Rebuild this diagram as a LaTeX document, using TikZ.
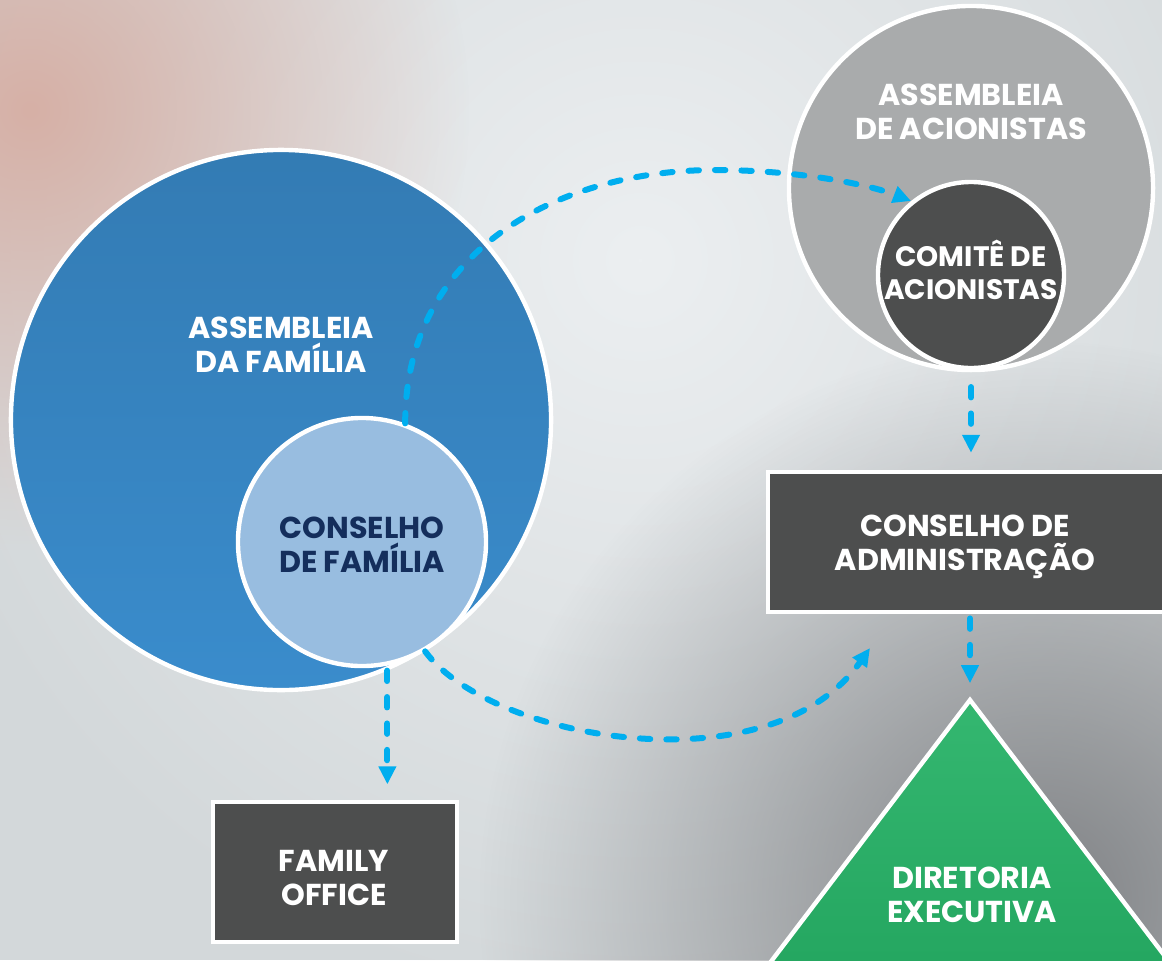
\documentclass[tikz,border=0pt]{standalone}
\usepackage{fontspec}
\setmainfont{Poppins}
\usetikzlibrary{arrows.meta,calc,fadings}
\usepackage{xcolor}
\definecolor{govbg}{RGB}{211, 216, 218}
\definecolor{govlight}{RGB}{236, 239, 241}
\definecolor{govpink}{RGB}{214, 176, 166}
\definecolor{govshadow}{RGB}{128, 130, 133}
\definecolor{famblue}{RGB}{58, 140, 204}
\definecolor{famlight}{RGB}{152, 189, 224}
\definecolor{famnavy}{RGB}{20, 46, 92}
\definecolor{sharegray}{RGB}{169, 171, 172}
\definecolor{govdark}{RGB}{77, 78, 78}
\definecolor{execgreen}{RGB}{36, 166, 96}
\definecolor{execlight}{RGB}{52, 183, 112}
\definecolor{govcyan}{RGB}{0, 174, 239}
\tikzfading[name=glow, inner color=transparent!0, outer color=transparent!100]

\begin{document}
\begin{tikzpicture}[x=0.025cm, y=-0.025cm,
    ring/.style={circle, draw=white, line width=0.11cm, inner sep=0pt},
    darkbox/.style={rectangle, draw=white, line width=0.12cm, fill=govdark, inner sep=0pt},
    headtext/.style={text=white, align=center, font=\bfseries\fontsize{21.5}{24}\selectfont},
    flow/.style={draw=govcyan, line width=0.15cm, line cap=round, dash pattern=on 0.26cm off 0.4cm,
        -{Triangle[length=0.45cm, width=0.42cm]}}]
    % Background
    \clip (0,0) rectangle (1162,960);
    \fill[govbg] (0,0) rectangle (1162,960);
    \fill[govlight, path fading=glow] (640,260) circle (760);
    \fill[govpink, path fading=glow] (30,110) circle (440);
    \fill[govshadow, path fading=glow] (1040,900) circle (560);

    % Family side
    \node[ring, top color=famblue!88!black, bottom color=famblue, minimum size=13.5cm] (famAssembly) at (281,420) {};
    \node[ring, fill=famlight, minimum size=6.2cm] (famCouncil) at (362,542) {};
    \node[headtext] (famAssemblyText) at (281,345) {ASSEMBLEIA\\DA FAMÍLIA};
    \node[headtext, text=famnavy] (famCouncilText) at (362,545) {CONSELHO\\DE FAMÍLIA};
    \node[darkbox, minimum width=6.1cm, minimum height=3.5cm] (famOffice) at (335,872) {};
    \node[headtext] (famOfficeText) at (334,878) {FAMILY\\OFFICE};

    % Shareholder side
    \node[ring, fill=sharegray, minimum size=9.1cm] (shareAssembly) at (971,188) {};
    \node[ring, fill=govdark, minimum size=4.65cm] (shareComm) at (971,275) {};
    \node[headtext] (shareAssemblyText) at (971,112) {ASSEMBLEIA\\DE ACIONISTAS};
    \node[headtext, font=\bfseries\fontsize{20}{23}\selectfont] (shareCommText) at (971,270) {COMITÊ DE\\ACIONISTAS};
    \node[darkbox, minimum width=10.3cm, minimum height=3.5cm] (boardAdmin) at (974,542) {};
    \node[headtext] (boardAdminText) at (965,547) {CONSELHO DE\\ADMINISTRAÇÃO};

    % Executive board
    \coordinate (execApex) at (970,700);
    \filldraw[draw=white, line width=0.11cm, top color=execlight, bottom color=execgreen]
        (execApex) -- (760,976) -- (1180,976) -- cycle;
    \node[headtext] (execText) at (972,895) {DIRETORIA\\EXECUTIVA};

    % Dashed links
    \coordinate (boardEntry) at (870,648);
    \draw[flow] (famCouncil.70) .. controls (405,250) and (560,170) .. (715,170)
        .. controls (800,170) and (870,185) .. (shareComm.129);
    \draw[flow] (famCouncil.-60) .. controls (490,740) and (770,790) .. (boardEntry);
    \draw[flow, shorten >=0.38cm] (famAssembly.-67) -- (famAssembly.-67 |- famOffice.north);
    \draw[flow, shorten <=0.42cm, shorten >=0.42cm] (shareComm.south) -- (shareComm.south |- boardAdmin.north);
    \draw[flow, shorten <=0.1cm, shorten >=0.42cm] (boardAdmin.south -| execApex) -- (execApex);
\end{tikzpicture}
\end{document}
